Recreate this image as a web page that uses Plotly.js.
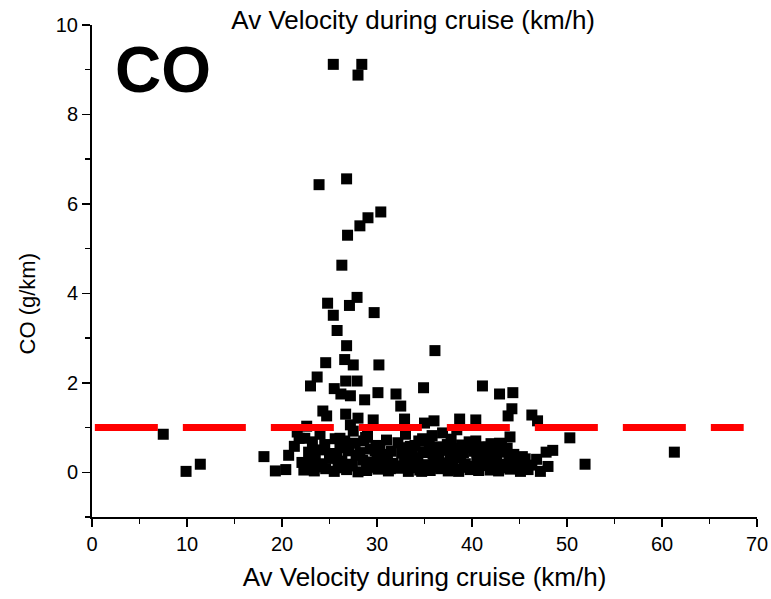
<!DOCTYPE html>
<html>
<head>
<meta charset="utf-8">
<script src="https://cdn.plot.ly/plotly-3.0.1.min.js"></script>
<style>html,body{margin:0;padding:0;background:#fff;}#chart{width:771px;height:599px;}</style>
</head>
<body>
<div id="chart"></div>
<script>
// Scattered points (Av velocity km/h, CO g/km)
const outlierX = [7.5, 9.9, 11.4, 18.1, 19.3, 20.4, 20.7, 21.3, 21.6, 21.8, 22.6, 22.4,
  25.4, 28.4, 28.0, 26.8, 23.9, 30.4, 29.05, 28.2, 26.9, 26.3, 27.9, 24.8, 27.1, 29.7, 25.4, 25.8, 26.8, 36.1,
  24.6, 26.6, 27.5, 30.2, 23.7, 23.0, 25.5, 26.7, 27.9, 26.2, 27.2, 28.7, 30.1, 24.3, 24.7, 26.7, 28.0, 29.6,
  27.2, 34.9, 41.1, 42.9, 44.3, 32.0, 32.5, 44.2, 43.8, 46.3, 46.9, 32.9, 38.7, 40.4, 36.0, 35.0, 36.9, 44.0,
  40.4, 42.9, 47.8, 48.5, 50.3, 51.9, 61.3, 47.2, 48.0, 46.8, 26.1, 28.6, 34.8];
const outlierY = [0.85, 0.02, 0.18, 0.35, 0.03, 0.06, 0.38, 0.58, 0.90, 0.76, 1.03, 0.76,
  9.12, 9.12, 8.88, 6.56, 6.43, 5.82, 5.69, 5.51, 5.30, 4.63, 3.91, 3.78, 3.73, 3.57, 3.51, 3.17, 2.83, 2.72,
  2.45, 2.52, 2.40, 2.40, 2.13, 1.93, 1.87, 2.04, 2.04, 1.75, 1.71, 1.62, 1.78, 1.37, 1.26, 1.30, 1.21, 1.17,
  1.06, 1.89, 1.93, 1.75, 1.78, 1.75, 1.48, 1.42, 1.26, 1.28, 1.15, 1.19, 1.19, 1.17, 1.15, 1.10, 0.88, 0.79,
  0.70, 0.65, 0.45, 0.49, 0.77, 0.18, 0.45, 0.02, 0.13, 0.29, 0.76, 0.70, 0.75];

// Dense cluster near the bottom
const clusterX = [22.3, 23.4, 24.6, 25.5, 26.8, 28.0, 28.9, 30.1, 31.2, 32.4, 33.3, 34.5, 35.6, 36.7, 37.5, 38.6, 39.8, 40.7, 41.9, 42.8, 44.0, 45.1, 45.9,
  22.1, 23.0, 24.2, 25.1, 26.3, 27.4, 28.5, 29.6, 30.8, 31.7, 32.9, 34.1, 35.2, 36.0, 37.3, 38.2, 39.3, 40.5, 41.4, 42.6, 43.5, 44.7, 45.6,
  22.8, 23.9, 25.0, 26.1, 27.0, 28.2, 29.3, 30.4, 31.5, 32.6, 33.7, 34.8, 35.9, 37.0, 38.0, 39.1, 40.2, 41.2, 42.3, 43.4, 44.4, 45.3,
  23.2, 24.5, 25.6, 26.6, 27.7, 28.8, 29.9, 31.0, 32.2, 33.5, 34.4, 35.5, 37.8, 38.9, 39.7, 41.0, 42.0, 43.1,
  24.0, 27.5, 29.0, 33.0, 35.8, 38.4, 23.6, 31.9, 36.4, 40.0, 43.8,
  22.9, 24.0, 25.9, 27.2, 29.4, 30.6, 31.8, 33.9, 35.0, 36.2, 38.0, 39.2, 40.3, 41.6, 43.2, 44.5, 45.5, 46.3,
  23.5, 25.8, 27.8, 30.0, 31.1, 33.1, 34.3, 36.5, 37.7, 38.8, 40.9, 42.0, 43.9, 45.0,
  30.3, 32.8, 34.0, 36.3, 37.4, 39.5, 41.7, 43.7,
  31.4, 33.6, 35.3, 38.5, 40.6, 42.4, 44.9, 29.8, 34.7, 39.9];
const clusterY = [0.05, 0.03, 0.08, 0.02, 0.06, 0.01, 0.04, 0.07, 0.03, 0.09, 0.02, 0.05, 0.04, 0.08, 0.03, 0.02, 0.06, 0.04, 0.05, 0.03, 0.07, 0.02, 0.06,
  0.22, 0.28, 0.19, 0.31, 0.25, 0.18, 0.27, 0.23, 0.30, 0.20, 0.26, 0.24, 0.17, 0.29, 0.21, 0.32, 0.19, 0.26, 0.22, 0.28, 0.18, 0.25, 0.30,
  0.45, 0.50, 0.42, 0.55, 0.48, 0.44, 0.52, 0.40, 0.47, 0.43, 0.50, 0.46, 0.41, 0.49, 0.53, 0.44, 0.47, 0.42, 0.50, 0.45, 0.40, 0.35,
  0.68, 0.62, 0.75, 0.70, 0.65, 0.78, 0.60, 0.72, 0.66, 0.58, 0.70, 0.63, 0.74, 0.61, 0.68, 0.57, 0.64, 0.60,
  0.85, 0.92, 0.82, 0.85, 0.82, 0.95, 0.12, 0.14, 0.13, 0.11, 0.12,
  0.12, 0.15, 0.10, 0.14, 0.11, 0.16, 0.13, 0.10, 0.15, 0.12, 0.14, 0.11, 0.13, 0.15, 0.10, 0.14, 0.12, 0.16,
  0.36, 0.33, 0.38, 0.34, 0.37, 0.35, 0.32, 0.36, 0.39, 0.33, 0.35, 0.37, 0.34, 0.31,
  0.58, 0.55, 0.60, 0.57, 0.62, 0.59, 0.56, 0.54,
  0.08, 0.27, 0.44, 0.07, 0.33, 0.09, 0.21, 0.48, 0.02, 0.55];

// Limit line
const limitX = [0.3, 68.6];
const limitY = [1, 1];

const FONT = 'Liberation Sans, Arial, Helvetica, sans-serif';

const traces = [
  {x: outlierX.concat(clusterX), y: outlierY.concat(clusterY), type: 'scatter', mode: 'markers',
   marker: {symbol: 'square', size: 11, color: '#000000'}, hoverinfo: 'x+y', cliponaxis: false},
  {x: limitX, y: limitY, type: 'scatter', mode: 'lines',
   line: {color: '#ff0000', width: 7, dash: '63px,25px'}}
];

const layout = {
  width: 771, height: 599,
  margin: {l: 92, r: 14, t: 25, b: 82},
  paper_bgcolor: '#ffffff', plot_bgcolor: '#ffffff',
  showlegend: false,
  font: {family: FONT, color: '#000000'},
  title: {text: 'Av Velocity during cruise (km/h)', font: {family: FONT, size: 26, color: '#000'},
          x: 0.483, xanchor: 'center', xref: 'paper', y: 1 - 20/599, yanchor: 'middle', yref: 'container'},
  xaxis: {range: [0, 70], tick0: 0, dtick: 10, ticks: 'outside', ticklen: 8, tickwidth: 1.5, tickcolor: '#000',
          showline: true, linewidth: 2, linecolor: '#000', showgrid: false, zeroline: false,
          minor: {dtick: 5, ticks: 'outside', ticklen: 5, tickwidth: 1.5, tickcolor: '#000', showgrid: false},
          tickfont: {family: FONT, size: 20, color: '#000'},
          title: {text: 'Av Velocity during cruise (km/h)', font: {family: FONT, size: 26, color: '#000'}, standoff: 14}},
  yaxis: {range: [-1, 10], tick0: 0, dtick: 2, ticks: 'outside', ticklen: 8, tickwidth: 1.5, tickcolor: '#000',
          showline: true, linewidth: 2, linecolor: '#000', showgrid: false, zeroline: false,
          minor: {dtick: 1, ticks: 'outside', ticklen: 5, tickwidth: 1.5, tickcolor: '#000', showgrid: false},
          tickfont: {family: FONT, size: 20, color: '#000'}},
  annotations: [
    {text: '<b>CO</b>', xref: 'paper', yref: 'paper', x: 0.031, y: 0.908, xanchor: 'left', yanchor: 'middle',
     showarrow: false, font: {family: FONT, size: 64, color: '#000'}},
    {text: 'CO (g/km)', xref: 'paper', yref: 'paper', x: -0.0977, y: 0.432, xanchor: 'center', yanchor: 'middle',
     textangle: -90, showarrow: false, font: {family: FONT, size: 22, color: '#000'}}
  ]
};

Plotly.newPlot('chart', traces, layout, {displayModeBar: false, staticPlot: true});
</script>
</body>
</html>
